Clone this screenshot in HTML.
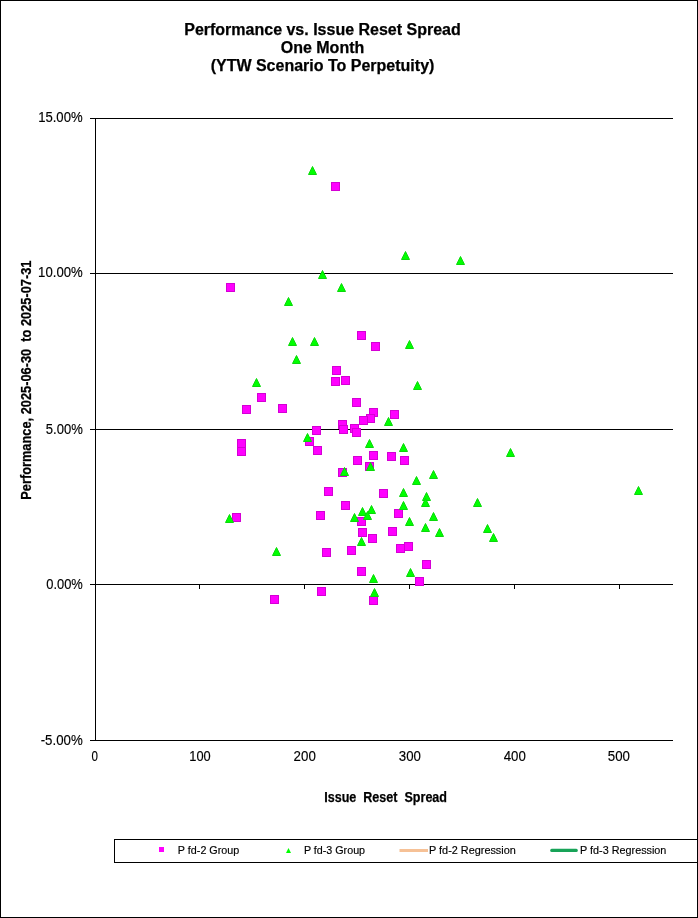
<!DOCTYPE html><html><head><meta charset="utf-8"><style>html,body{margin:0;padding:0;background:#fff;}svg{display:block;will-change:transform;}text{font-family:"Liberation Sans",sans-serif;fill:#000;stroke:#000;stroke-width:0.15px;}text[font-weight=bold]{stroke-width:0.25px;}</style></head><body>
<svg width="698" height="918" viewBox="0 0 698 918">
<rect x="0" y="0" width="698" height="918" fill="#fff"/>
<rect x="0.5" y="0.5" width="697" height="917" fill="none" stroke="#000" stroke-width="1"/>
<path d="M90 118.5H673M90 273.5H673M90 429.5H673M90 584.5H673M90 740.5H673M95.5 118V741M199.5 585V589M304.5 585V589M409.5 585V589M514.5 585V589M619.5 585V589" stroke="#000" stroke-width="1" fill="none"/>
<text id="t1" x="322.50" y="34.60" font-size="16" font-weight="bold" text-anchor="middle" xml:space="preserve">Performance vs. Issue Reset Spread</text>
<text id="t2" x="322.50" y="53.10" font-size="16" font-weight="bold" text-anchor="middle" xml:space="preserve">One Month</text>
<text id="t3" x="322.50" y="71.40" font-size="16" font-weight="bold" text-anchor="middle" xml:space="preserve">(YTW Scenario To Perpetuity)</text>
<text id="y15" x="82.62" y="122.47" font-size="14" text-anchor="end" textLength="44.47" lengthAdjust="spacingAndGlyphs" xml:space="preserve">15.00%</text>
<text id="y10" x="82.73" y="277.47" font-size="14" text-anchor="end" textLength="44.61" lengthAdjust="spacingAndGlyphs" xml:space="preserve">10.00%</text>
<text id="y5" x="82.81" y="433.89" font-size="14" text-anchor="end" textLength="37.01" lengthAdjust="spacingAndGlyphs" xml:space="preserve">5.00%</text>
<text id="y0" x="82.84" y="589.07" font-size="14" text-anchor="end" textLength="36.61" lengthAdjust="spacingAndGlyphs" xml:space="preserve">0.00%</text>
<text id="ym5" x="82.70" y="744.66" font-size="14" text-anchor="end" textLength="42.02" lengthAdjust="spacingAndGlyphs" xml:space="preserve">-5.00%</text>
<text id="x0" x="94.69" y="760.97" font-size="14" text-anchor="middle" textLength="6.44" lengthAdjust="spacingAndGlyphs" xml:space="preserve">0</text>
<text id="x100" x="200.05" y="760.82" font-size="14" text-anchor="middle" textLength="21.42" lengthAdjust="spacingAndGlyphs" xml:space="preserve">100</text>
<text id="x200" x="304.68" y="760.82" font-size="14" text-anchor="middle" textLength="22.22" lengthAdjust="spacingAndGlyphs" xml:space="preserve">200</text>
<text id="x300" x="409.89" y="760.70" font-size="14" text-anchor="middle" textLength="22.11" lengthAdjust="spacingAndGlyphs" xml:space="preserve">300</text>
<text id="x400" x="514.77" y="760.59" font-size="14" text-anchor="middle" textLength="22.12" lengthAdjust="spacingAndGlyphs" xml:space="preserve">400</text>
<text id="x500" x="618.91" y="760.57" font-size="14" text-anchor="middle" textLength="22.15" lengthAdjust="spacingAndGlyphs" xml:space="preserve">500</text>
<text id="xt" x="385.62" y="801.60" font-size="14.2" font-weight="bold" text-anchor="middle" textLength="122.80" lengthAdjust="spacingAndGlyphs" xml:space="preserve">Issue  Reset  Spread</text>
<text id="yt" x="0.00" y="0.00" font-size="14.2" font-weight="bold" text-anchor="middle" transform="translate(31,380.16) rotate(-90)" textLength="239.24" lengthAdjust="spacingAndGlyphs" xml:space="preserve">Performance, 2025-06-30  to 2025-07-31</text>
<text id="l1" x="177.89" y="854.00" font-size="10.5" textLength="61.39" lengthAdjust="spacingAndGlyphs" xml:space="preserve">P fd-2 Group</text>
<text id="l2" x="303.90" y="854.00" font-size="10.5" textLength="61.21" lengthAdjust="spacingAndGlyphs" xml:space="preserve">P fd-3 Group</text>
<text id="l3" x="429.00" y="854.00" font-size="10.5" textLength="86.81" lengthAdjust="spacingAndGlyphs" xml:space="preserve">P fd-2 Regression</text>
<text id="l4" x="580.04" y="854.00" font-size="10.5" textLength="86.36" lengthAdjust="spacingAndGlyphs" xml:space="preserve">P fd-3 Regression</text>
<g fill="#ff00ff" stroke="#d400d4" stroke-width="1">
<rect x="331.5" y="182.5" width="8" height="8"/>
<rect x="226.5" y="283.5" width="8" height="8"/>
<rect x="357.5" y="331.5" width="8" height="8"/>
<rect x="371.5" y="342.5" width="8" height="8"/>
<rect x="332.5" y="366.5" width="8" height="8"/>
<rect x="331.5" y="377.5" width="8" height="8"/>
<rect x="341.5" y="376.5" width="8" height="8"/>
<rect x="257.5" y="393.5" width="8" height="8"/>
<rect x="242.5" y="405.5" width="8" height="8"/>
<rect x="278.5" y="404.5" width="8" height="8"/>
<rect x="352.5" y="398.5" width="8" height="8"/>
<rect x="369.5" y="408.5" width="8" height="8"/>
<rect x="366.5" y="414.5" width="8" height="8"/>
<rect x="359.5" y="416.5" width="8" height="8"/>
<rect x="390.5" y="410.5" width="8" height="8"/>
<rect x="338.5" y="420.5" width="8" height="8"/>
<rect x="339.5" y="425.5" width="8" height="8"/>
<rect x="350.5" y="424.5" width="8" height="8"/>
<rect x="352.5" y="428.5" width="8" height="8"/>
<rect x="312.5" y="426.5" width="8" height="8"/>
<rect x="305.5" y="437.5" width="8" height="8"/>
<rect x="313.5" y="446.5" width="8" height="8"/>
<rect x="237.5" y="439.5" width="8" height="8"/>
<rect x="237.5" y="447.5" width="8" height="8"/>
<rect x="369.5" y="451.5" width="8" height="8"/>
<rect x="353.5" y="456.5" width="8" height="8"/>
<rect x="365.5" y="462.5" width="8" height="8"/>
<rect x="338.5" y="468.5" width="8" height="8"/>
<rect x="387.5" y="452.5" width="8" height="8"/>
<rect x="400.5" y="456.5" width="8" height="8"/>
<rect x="324.5" y="487.5" width="8" height="8"/>
<rect x="379.5" y="489.5" width="8" height="8"/>
<rect x="341.5" y="501.5" width="8" height="8"/>
<rect x="316.5" y="511.5" width="8" height="8"/>
<rect x="357.5" y="517.5" width="8" height="8"/>
<rect x="394.5" y="509.5" width="8" height="8"/>
<rect x="358.5" y="528.5" width="8" height="8"/>
<rect x="388.5" y="527.5" width="8" height="8"/>
<rect x="368.5" y="534.5" width="8" height="8"/>
<rect x="347.5" y="546.5" width="8" height="8"/>
<rect x="322.5" y="548.5" width="8" height="8"/>
<rect x="404.5" y="542.5" width="8" height="8"/>
<rect x="396.5" y="544.5" width="8" height="8"/>
<rect x="422.5" y="560.5" width="8" height="8"/>
<rect x="357.5" y="567.5" width="8" height="8"/>
<rect x="415.5" y="577.5" width="8" height="8"/>
<rect x="369.5" y="596.5" width="8" height="8"/>
<rect x="317.5" y="587.5" width="8" height="8"/>
<rect x="270.5" y="595.5" width="8" height="8"/>
<rect x="232.5" y="513.5" width="8" height="8"/>
</g>
<g fill="#00ff00" stroke="#0ad80a" stroke-width="1" stroke-linejoin="round">
<path d="M308.5 174.5L312.5 166.5L316.5 174.5Z"/>
<path d="M401.5 259.5L405.5 251.5L409.5 259.5Z"/>
<path d="M456.5 264.5L460.5 256.5L464.5 264.5Z"/>
<path d="M318.5 278.5L322.5 270.5L326.5 278.5Z"/>
<path d="M337.5 291.5L341.5 283.5L345.5 291.5Z"/>
<path d="M284.5 305.5L288.5 297.5L292.5 305.5Z"/>
<path d="M288.5 345.5L292.5 337.5L296.5 345.5Z"/>
<path d="M310.5 345.5L314.5 337.5L318.5 345.5Z"/>
<path d="M405.5 348.5L409.5 340.5L413.5 348.5Z"/>
<path d="M292.5 363.5L296.5 355.5L300.5 363.5Z"/>
<path d="M252.5 386.5L256.5 378.5L260.5 386.5Z"/>
<path d="M413.5 389.5L417.5 381.5L421.5 389.5Z"/>
<path d="M384.5 425.5L388.5 417.5L392.5 425.5Z"/>
<path d="M303.5 441.5L307.5 433.5L311.5 441.5Z"/>
<path d="M365.5 447.5L369.5 439.5L373.5 447.5Z"/>
<path d="M399.5 451.5L403.5 443.5L407.5 451.5Z"/>
<path d="M366.5 470.5L370.5 462.5L374.5 470.5Z"/>
<path d="M340.5 475.5L344.5 467.5L348.5 475.5Z"/>
<path d="M429.5 478.5L433.5 470.5L437.5 478.5Z"/>
<path d="M412.5 484.5L416.5 476.5L420.5 484.5Z"/>
<path d="M506.5 456.5L510.5 448.5L514.5 456.5Z"/>
<path d="M634.5 494.5L638.5 486.5L642.5 494.5Z"/>
<path d="M399.5 496.5L403.5 488.5L407.5 496.5Z"/>
<path d="M422.5 500.5L426.5 492.5L430.5 500.5Z"/>
<path d="M421.5 506.5L425.5 498.5L429.5 506.5Z"/>
<path d="M399.5 509.5L403.5 501.5L407.5 509.5Z"/>
<path d="M473.5 506.5L477.5 498.5L481.5 506.5Z"/>
<path d="M367.5 513.5L371.5 505.5L375.5 513.5Z"/>
<path d="M358.5 515.5L362.5 507.5L366.5 515.5Z"/>
<path d="M363.5 519.5L367.5 511.5L371.5 519.5Z"/>
<path d="M350.5 521.5L354.5 513.5L358.5 521.5Z"/>
<path d="M405.5 525.5L409.5 517.5L413.5 525.5Z"/>
<path d="M429.5 520.5L433.5 512.5L437.5 520.5Z"/>
<path d="M421.5 531.5L425.5 523.5L429.5 531.5Z"/>
<path d="M435.5 536.5L439.5 528.5L443.5 536.5Z"/>
<path d="M483.5 532.5L487.5 524.5L491.5 532.5Z"/>
<path d="M489.5 541.5L493.5 533.5L497.5 541.5Z"/>
<path d="M357.5 545.5L361.5 537.5L365.5 545.5Z"/>
<path d="M272.5 555.5L276.5 547.5L280.5 555.5Z"/>
<path d="M225.5 522.5L229.5 514.5L233.5 522.5Z"/>
<path d="M406.5 576.5L410.5 568.5L414.5 576.5Z"/>
<path d="M369.5 582.5L373.5 574.5L377.5 582.5Z"/>
<path d="M370.5 596.5L374.5 588.5L378.5 596.5Z"/>
</g>
<rect x="114.5" y="839.5" width="583" height="23" fill="none" stroke="#000" stroke-width="1"/>
<rect x="159" y="847" width="5" height="5" fill="#ff00ff"/>
<path d="M286 853L288.5 848L291 853Z" fill="#00ff00"/>
<rect x="399.5" y="849" width="28.5" height="3" fill="#f6c196"/>
<rect x="550.2" y="848.8" width="27.6" height="3.2" rx="1.5" fill="#18a358"/>
</svg></body></html>
